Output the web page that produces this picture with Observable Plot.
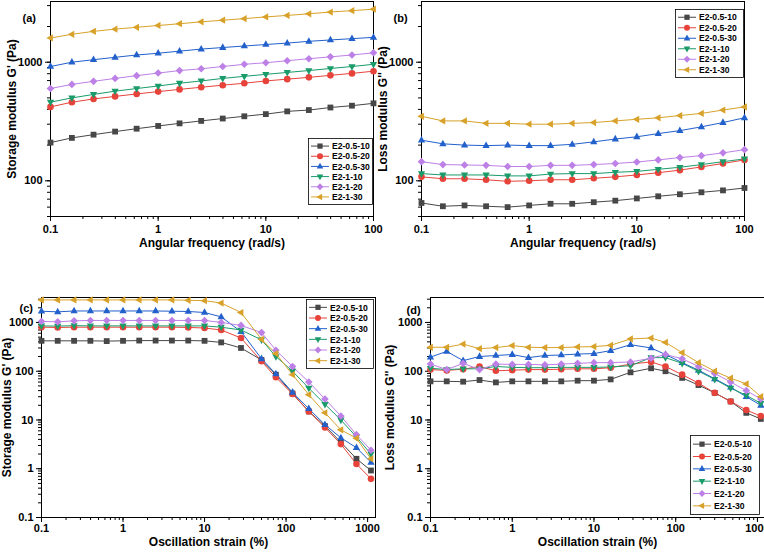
<!DOCTYPE html>
<html><head><meta charset="utf-8">
<script src="https://cdn.jsdelivr.net/npm/d3@7"></script>
<script src="https://cdn.jsdelivr.net/npm/@observablehq/plot@0.6"></script>
<style>
body{margin:0;background:#fff;font-family:"Liberation Sans",Arial,sans-serif;}
#wrap{position:relative;width:764px;height:552px;overflow:hidden;}
.pn{position:absolute;}
</style></head><body><div id="wrap"></div>
<script>
const series = ["E2-0.5-10","E2-0.5-20","E2-0.5-30","E2-1-10","E2-1-20","E2-1-30"];
const colors = ["#474747","#e8433b","#2260cc","#1a9b6a","#bd80e6","#d8a22a"];

const freq = [0.1,0.158,0.251,0.398,0.631,1,1.58,2.51,3.98,6.31,10,15.8,25.1,39.8,63.1,100];
const storageFreq = [
  [210,230,245,260,275,290,305,320,335,350,365,385,395,415,430,450],
  [420,460,490,515,540,565,590,615,640,665,695,720,745,775,805,840],
  [920,1000,1050,1100,1150,1190,1240,1290,1330,1370,1410,1450,1500,1540,1580,1620],
  [460,500,535,570,600,630,665,695,730,760,790,820,850,885,920,960],
  [600,650,690,730,770,810,850,880,920,960,990,1030,1070,1110,1150,1200],
  [1600,1720,1820,1900,1970,2040,2110,2190,2260,2330,2410,2480,2560,2650,2720,2800]
];
const lossFreq = [
  [65,61,62,61,60,62,64,64,66,68,71,74,77,80,83,87],
  [108,104,104,102,99,100,102,102,105,108,112,117,123,131,140,150],
  [220,205,200,198,200,198,198,203,213,225,235,250,265,285,310,340],
  [115,112,112,112,110,110,114,115,115,118,120,125,130,137,145,153],
  [145,137,136,135,132,132,135,135,137,140,144,150,157,163,172,183],
  [350,320,320,305,305,300,300,305,310,320,330,340,355,370,395,420]
];

const strain = [0.1,0.158,0.251,0.398,0.631,1,1.58,2.51,3.98,6.31,10,16,28,50,75,120,190,300,470,730,1100];
const storageStrain = [
  [420,420,420,420,415,420,425,425,425,425,420,390,300,170,85,35,15,7.5,3.5,1.6,0.92],
  [800,790,800,800,800,800,800,800,800,790,770,700,480,160,75,34,15,7,3.2,1.25,0.62],
  [1700,1650,1720,1720,1720,1720,1720,1720,1700,1680,1600,1300,650,180,88,37,17,8,4.3,2.7,1.35],
  [850,840,860,850,850,850,850,850,850,850,850,800,700,440,200,100,45,21,10,4.5,2.0],
  [1050,1030,1080,1100,1100,1100,1100,1100,1100,1100,1100,1000,870,620,270,125,60,27,12,5,2.4],
  [2900,2900,2900,2900,2900,2900,2900,2900,2900,2850,2800,2500,1600,450,230,85,33,14,6.3,4.2,1.6]
];
const lossStrain = [
  [62,62,61,66,59,62,62,62,62,64,64,68,95,115,100,73,52,36,24,14,10.5],
  [108,104,110,125,102,105,108,108,110,112,112,118,140,155,125,85,57,36,24,16,12],
  [195,255,165,200,210,220,190,210,215,225,230,265,350,300,220,150,105,70,47,30,20],
  [115,108,112,112,125,120,118,118,120,120,120,122,130,190,190,145,100,68,45,32,22],
  [140,108,145,108,140,138,138,135,140,145,150,150,155,185,220,180,125,90,60,40,27],
  [310,310,360,290,305,335,310,305,305,315,320,340,460,480,390,240,150,100,72,55,30]
];

function poly(pts){return {draw(ctx,size){const k=Math.sqrt(size)*0.62;ctx.moveTo(pts[0][0]*k,pts[0][1]*k);for(const p of pts.slice(1))ctx.lineTo(p[0]*k,p[1]*k);ctx.closePath();}};}
const triUp = poly([[0,-1.15],[1,0.65],[-1,0.65]]);
const triDown = poly([[0,1.15],[1,-0.65],[-1,-0.65]]);
const triLeft = poly([[-1.15,0],[0.65,-1],[0.65,1]]);
const diamond = poly([[0,-1.05],[1.05,0],[0,1.05],[-1.05,0]]);
const square = poly([[-0.8,-0.8],[0.8,-0.8],[0.8,0.8],[-0.8,0.8]]);
const symbols = [square, d3.symbolCircle, triUp, triDown, diamond, triLeft];

function rows(xs, table){
  const out = [];
  table.forEach((vals,i) => vals.forEach((v,j) => out.push({x: xs[j], y: v, s: series[i]})));
  return out;
}
function minor(lo, hi){
  const t = [];
  for (let e = -2; e <= 4; e++) for (let m = 1; m <= 9; m++){const v = m*10**e; if (v>=lo && v<=hi) t.push(v);}
  return t;
}

function panel(o){
  const data = rows(o.xs, o.table);
  const plot = Plot.plot({
    width: o.w, height: o.h,
    marginLeft: o.ml, marginRight: o.mr, marginTop: o.mt, marginBottom: o.mb,
    style: {fontFamily: "Liberation Sans, Arial, sans-serif", fontWeight: "bold", fontSize: "11px", color: "#000", overflow: "visible"},
    x: {type: "log", domain: o.xd, axis: null},
    y: {type: "log", domain: o.yd, axis: null},
    color: {domain: series, range: colors},
    symbol: {domain: series, range: symbols},
    marks: [
      Plot.frame({stroke: "#000", strokeWidth: 1}),
      Plot.axisX(minor(o.xd[0], o.xd[1]), {tickSize: 3, text: null, label: null}),
      Plot.axisX(o.xt, {tickSize: 5, tickFormat: d => String(d), fontSize: 11, fontWeight: "bold", tickPadding: o.tp, label: null}),
      Plot.axisY(minor(o.yd[0], o.yd[1]), {tickSize: 3, text: null, label: null}),
      Plot.axisY(o.yt, {tickSize: 5, tickFormat: d => String(d), fontSize: 11, fontWeight: "bold", tickPadding: 3, label: null}),
      Plot.text([o.xlabel], {frameAnchor: "bottom", dy: o.xdy, fontSize: 12, fontWeight: "bold"}),
      Plot.text([o.ylabel], {frameAnchor: "left", textAnchor: "middle", dx: o.ydx, rotate: -90, fontSize: 12, fontWeight: "bold"}),
      Plot.text([o.tag], {frameAnchor: "top-left", dx: o.tagdx, dy: o.tagdy, fontSize: 11, fontWeight: "bold"}),
      Plot.line(data, {x: "x", y: "y", z: "s", stroke: "s", strokeWidth: 1}),
      Plot.dot(data, {x: "x", y: "y", symbol: "s", fill: "s", stroke: "none", r: 3.3})
    ]
  });
  const div = document.createElement("div");
  div.className = "pn";
  div.style.left = o.left + "px"; div.style.top = o.top + "px";
  div.appendChild(plot);
  document.getElementById("wrap").appendChild(div);
  legend(o.leg);
}

function legend(L){
  const svg = d3.select("#wrap").append("svg").attr("class","pn")
    .style("left", L.x + "px").style("top", L.y + "px")
    .attr("width", L.w).attr("height", L.h);
  svg.append("rect").attr("x",0.5).attr("y",0.5).attr("width",L.w-1).attr("height",L.h-1)
    .attr("fill","#fff").attr("stroke","#000").attr("stroke-width",0.8);
  const step = (L.h - 6) / series.length;
  series.forEach((s,i) => {
    const cy = 3 + step*(i+0.5);
    svg.append("line").attr("x1",3).attr("x2",21).attr("y1",cy).attr("y2",cy).attr("stroke",colors[i]);
    svg.append("path").attr("transform",`translate(12,${cy})`)
      .attr("d", d3.symbol(symbols[i], 28)()).attr("fill",colors[i]);
    svg.append("text").attr("x",24).attr("y",cy+3.2).text(s)
      .attr("font-size",8.6).attr("font-weight","bold").attr("font-family","Liberation Sans, Arial, sans-serif");
  });
}

panel({left:0, top:0, w:382, h:276, ml:50, mr:9, mt:1, mb:60,
  xs: freq, table: storageFreq, xd:[0.1,100], yd:[50,3250], xt:[0.1,1,10,100], yt:[100,1000],
  xlabel:"Angular frequency (rad/s)", ylabel:"Storage modulus G' (Pa)", xdy:30, ydx:-38, tag:"(a)", tagdx:-28, tagdy:13, tp:4,
  leg:{x:308, y:138, w:65, h:67}});
panel({left:382, top:0, w:382, h:276, ml:39, mr:20, mt:1, mb:60,
  xs: freq, table: lossFreq, xd:[0.1,100], yd:[50,3250], xt:[0.1,1,10,100], yt:[100,1000],
  xlabel:"Angular frequency (rad/s)", ylabel:"Loss modulus G'' (Pa)", xdy:30, ydx:-38, tag:"(b)", tagdx:-28, tagdy:13, tp:4,
  leg:{x:675, y:9, w:69, h:69}});
panel({left:0, top:276, w:382, h:276, ml:41, mr:7, mt:21, mb:35,
  xs: strain, table: storageStrain, xd:[0.1,1250], yd:[0.1,3250], xt:[0.1,1,10,100,1000], yt:[0.1,1,10,100,1000],
  xlabel:"Oscillation strain (%)", ylabel:"Storage modulus G' (Pa)", xdy:28, ydx:-34, tag:"(c)", tagdx:-22, tagdy:7, tp:2,
  leg:{x:306, y:299, w:68, h:70}});
panel({left:382, top:276, w:382, h:276, ml:48, mr:0, mt:21, mb:35,
  xs: strain, table: lossStrain, xd:[0.1,1220], yd:[0.1,3250], xt:[0.1,1,10,100,1000], yt:[0.1,1,10,100,1000],
  xlabel:"Oscillation strain (%)", ylabel:"Loss modulus G'' (Pa)", xdy:28, ydx:-40, tag:"(d)", tagdx:-24, tagdy:9, tp:2,
  leg:{x:690, y:435, w:70, h:80}});
</script></body></html>
